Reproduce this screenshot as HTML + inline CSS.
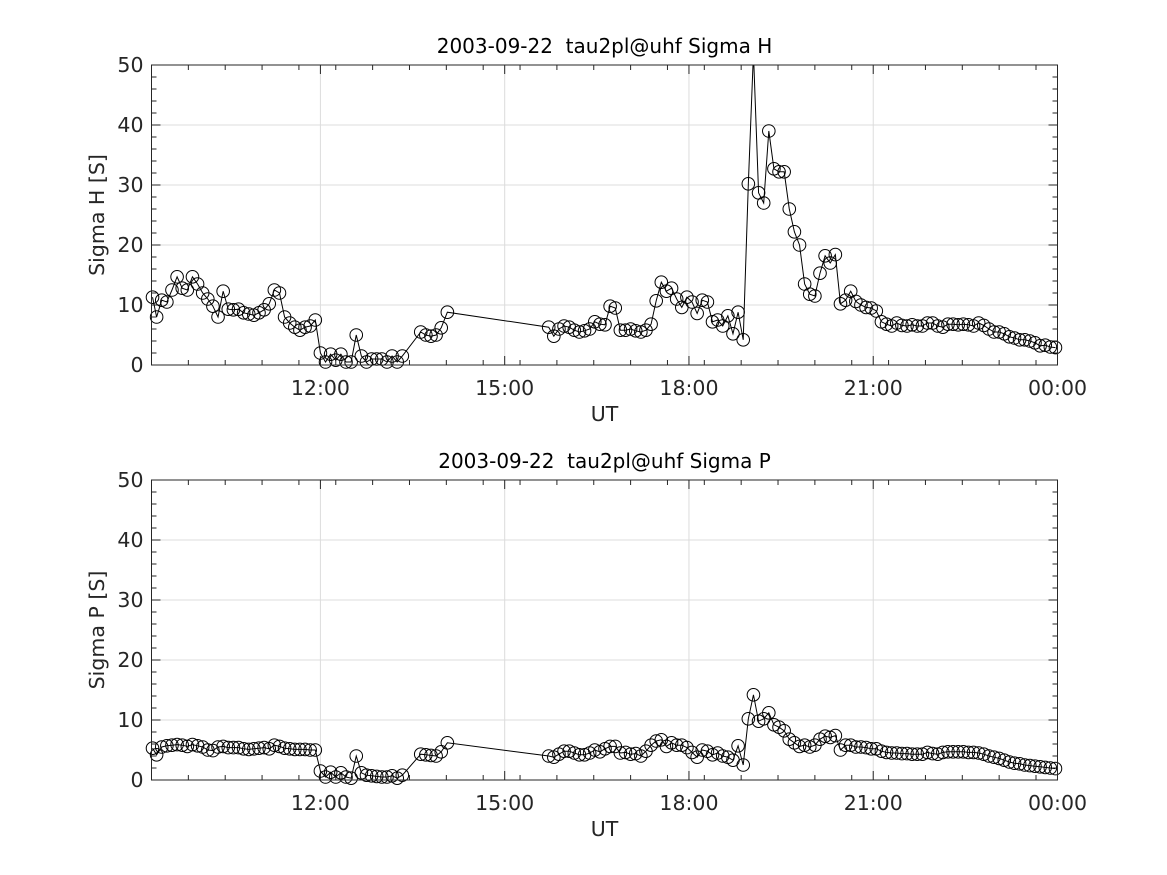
<!DOCTYPE html>
<html><head><meta charset="utf-8"><style>
html,body{margin:0;padding:0;background:#fff;width:1167px;height:875px;overflow:hidden}
svg{display:block;font-family:"DejaVu Sans","Liberation Sans",sans-serif}
text{white-space:pre}
</style></head><body>
<svg id="chart" width="1167" height="875"></svg>
<script>
const times1 = ["09:16","09:20","09:25","09:30","09:35","09:40","09:45","09:50","09:55","10:00","10:05","10:10","10:15","10:20","10:25","10:30","10:35","10:40","10:45","10:50","10:55","11:00","11:05","11:10","11:15","11:20","11:25","11:30","11:35","11:40","11:45","11:50","11:55","12:00","12:05","12:10","12:15","12:20","12:25","12:30","12:35","12:40","12:45","12:50","12:55","13:00","13:05","13:10","13:15","13:20","13:38","13:43","13:48","13:53","13:58","14:04",
"15:43","15:48","15:53","15:58",
"16:03","16:08","16:13","16:18","16:23","16:28","16:33","16:38","16:43","16:48","16:53","16:58",
"17:03","17:08","17:13","17:18","17:23","17:28","17:33","17:38","17:43","17:48","17:53","17:58",
"18:03","18:08","18:13","18:18","18:23","18:28","18:33","18:38","18:43","18:48","18:53","18:58",
"19:03","19:08","19:13","19:18","19:23","19:28","19:33","19:38","19:43","19:48","19:53","19:58",
"20:03","20:08","20:13","20:18","20:23","20:28","20:33","20:38","20:43","20:48","20:53","20:58",
"21:03","21:08","21:13","21:18","21:23","21:28","21:33","21:38","21:43","21:48","21:53","21:58",
"22:03","22:08","22:13","22:18","22:23","22:28","22:33","22:38","22:43","22:48","22:53","22:58",
"23:03","23:08","23:13","23:18","23:23","23:28","23:33","23:38","23:43","23:48","23:53","23:58"];
const sigmaH = [11.3,8,10.8,10.5,12.5,14.7,12.8,12.5,14.7,13.5,12,11,9.8,8,12.3,9.3,9.2,9.3,8.7,8.5,8.3,8.7,9.2,10.2,12.5,12,8,7,6.3,5.8,6.3,6.5,7.5,2,0.5,1.8,0.8,1.8,0.5,0.5,5,1.5,0.5,1,1,1,0.5,1.5,0.5,1.5,5.5,5,4.8,5,6.2,8.8,
6.3,4.8,6.0,6.5,6.3,5.8,5.5,5.7,6.0,7.2,6.8,6.7,9.8,9.5,5.8,5.8,6,5.7,5.5,5.8,6.8,10.7,13.8,12.3,12.8,11,9.6,11.3,10.5,8.6,10.8,10.5,7.2,7.5,6.5,8.2,5.2,8.8,4.2,30.2,52,28.7,27,39,32.7,32.2,32.2,26,22.2,20,13.5,11.8,11.5,15.3,18.2,17,18.4,10.2,10.8,12.3,10.6,10,9.6,9.5,9,7.2,6.8,6.5,7,6.6,6.5,6.7,6.5,6.5,7,7,6.5,6.3,6.8,6.8,6.7,6.8,6.7,6.5,7,6.6,6,5.5,5.5,5.2,4.7,4.5,4.2,4.2,4,3.7,3.2,3.3,3,2.9];
const sigmaP = [5.3,4.2,5.5,5.7,5.8,5.9,5.8,5.6,5.9,5.7,5.5,5.0,4.9,5.5,5.6,5.4,5.4,5.4,5.2,5.1,5.2,5.3,5.4,5.2,5.8,5.6,5.3,5.2,5.1,5.1,5.1,5.0,5.0,1.5,0.5,1.3,0.5,1.2,0.5,0.3,4.0,1.2,0.8,0.7,0.6,0.5,0.5,0.7,0.3,0.8,4.3,4.2,4.1,4.0,4.7,6.2,
4.0,3.8,4.3,4.8,4.8,4.5,4.2,4.2,4.5,5.0,4.7,5.2,5.6,5.6,4.5,4.6,4.3,4.4,4.0,4.8,5.8,6.5,6.7,5.6,6.2,5.8,5.8,5.4,4.6,3.8,5.0,4.8,4.2,4.5,4.0,3.8,3.3,5.7,2.5,10.2,14.2,9.8,10.2,11.2,9.2,8.8,8.2,6.8,6.2,5.6,5.8,5.5,5.8,6.8,7.3,7.1,7.4,5.0,5.8,5.8,5.5,5.5,5.4,5.2,5.2,4.8,4.6,4.5,4.5,4.4,4.4,4.3,4.3,4.3,4.6,4.4,4.3,4.6,4.7,4.7,4.7,4.7,4.6,4.6,4.5,4.3,4.0,3.8,3.6,3.3,3.0,2.8,2.7,2.5,2.4,2.3,2.2,2.1,2.0,1.9];
const xTickLabels = ["12:00","15:00","18:00","21:00","00:00"];
const xTickHours = [12,15,18,21,24];
const yTicks = [0,10,20,30,40,50];

const NS="http://www.w3.org/2000/svg";
const svg=document.getElementById('chart');
function mk(tag,attrs,parent){const e=document.createElementNS(NS,tag);for(const k in attrs)e.setAttribute(k,attrs[k]);(parent||svg).appendChild(e);return e;}
const X0=151.5,X1=1057.5,T0=9.25,T1=24;
function toH(s){const p=s.split(':');return +p[0]+ +p[1]/60;}
function xs(t){return X0+(t-T0)/(T1-T0)*(X1-X0);}

function panel(top,bottom,vals,title,ylab,id){
  const ys=v=>bottom-(v/50)*(bottom-top);
  const g=mk('g',{});
  
  
  const cp=mk('clipPath',{id:'clip-'+id},g);
  mk('rect',{x:X0,y:top,width:X1-X0,height:bottom-top},cp);
  for(const v of yTicks){ if(v===0||v===50)continue;
    const l=mk('line',{x1:X0,x2:X1,y1:ys(v),y2:ys(v),stroke:'#dcdcdc','stroke-width':1},g);
    
    }
  for(const h of xTickHours){ if(h===24)continue;
    const l=mk('line',{x1:xs(h),x2:xs(h),y1:top,y2:bottom,stroke:'#dcdcdc','stroke-width':1},g);
    
    }
  let tk='';
  for(let v=0;v<=50;v+=2){const y=ys(v);const L=(v%10===0)?9:5;
    tk+=`M${X0},${y}h${L}M${X1},${y}h${-L}`;}
  for(let m=-165;m<=720;m+=36){const h=12+m/60;if(h<T0||h>T1)continue;const x=xs(h);
    tk+=`M${x},${bottom}v-5M${x},${top}v5`;}
  for(const h of xTickHours){const x=xs(h);tk+=`M${x},${bottom}v-9M${x},${top}v9`;}
  const tp=mk('path',{d:tk,stroke:'#262626','stroke-width':1,fill:'none'},g);
  
  
  const pts=times1.map((t,i)=>[xs(toH(t)),ys(vals[i]),vals[i]]);
  const sg=mk('g',{'clip-path':`url(#clip-${id})`},g);
  
  
  const ln=mk('polyline',{points:pts.map(p=>p[0]+','+p[1]).join(' '),fill:'none',stroke:'#000','stroke-width':1},sg);
  
  
  const mg=mk('g',{},g);
  
  
  for(const p of pts){ if(p[2]>50||p[2]<0)continue;
    const c=mk('circle',{cx:p[0],cy:p[1],r:6.3,fill:'none',stroke:'#000','stroke-width':1},mg);
    
    }
  const box=mk('rect',{x:X0,y:top,width:X1-X0,height:bottom-top,fill:'none',stroke:'#262626','stroke-width':1},g);
  
  
  for(const v of yTicks){const t=mk('text',{x:X0-8,y:ys(v)+7,'text-anchor':'end','font-size':20.5,fill:'#262626'},g);t.textContent=v;
    
    }
  xTickHours.forEach((h,i)=>{const t=mk('text',{x:xs(h),y:bottom+30,'text-anchor':'middle','font-size':20.5,fill:'#262626'},g);t.textContent=xTickLabels[i];
    
    });
  const tt=mk('text',{x:(X0+X1)/2,y:top-12,'text-anchor':'middle','font-size':20,fill:'#000','xml:space':'preserve'},g);tt.textContent=title;
  
  
  const xl=mk('text',{x:(X0+X1)/2,y:bottom+56,'text-anchor':'middle','font-size':20.5,fill:'#262626'},g);xl.textContent='UT';
  
  
  const yl=mk('text',{x:0,y:0,'text-anchor':'middle','font-size':20.5,fill:'#262626',transform:`translate(104,${(top+bottom)/2}) rotate(-90)`},g);yl.textContent=ylab;
  
  
}
panel(65,365,sigmaH,'2003-09-22  tau2pl@uhf Sigma H','Sigma H [S]','sigma-h');
panel(480,780,sigmaP,'2003-09-22  tau2pl@uhf Sigma P','Sigma P [S]','sigma-p');
</script>
</body></html>
